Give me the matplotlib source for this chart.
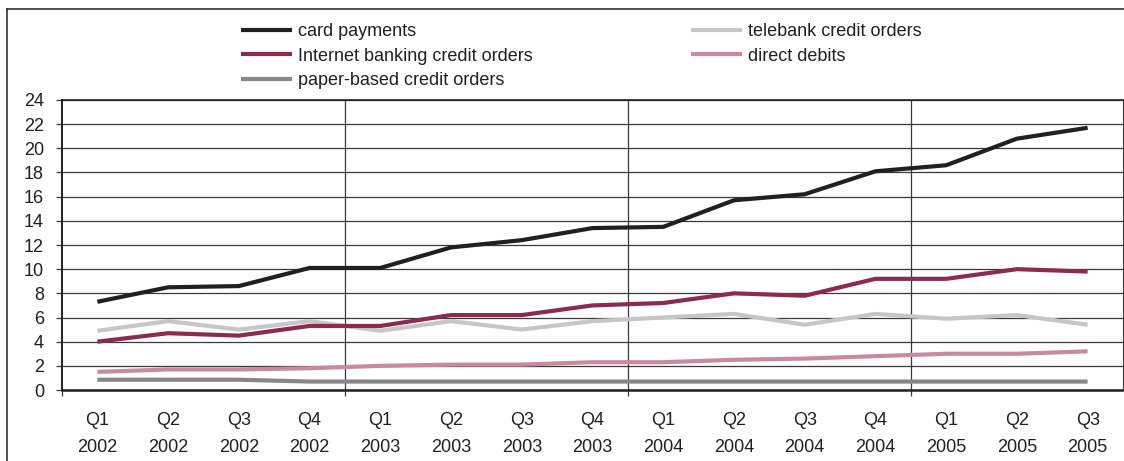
import matplotlib
matplotlib.use("Agg")
import matplotlib.pyplot as plt
from matplotlib.lines import Line2D

plt.rcParams['font.family'] = ['Liberation Sans', 'DejaVu Sans']

quarters = ["Q1", "Q2", "Q3", "Q4", "Q1", "Q2", "Q3", "Q4", "Q1", "Q2", "Q3", "Q4", "Q1", "Q2", "Q3"]
years = ["2002", "2002", "2002", "2002", "2003", "2003", "2003", "2003",
         "2004", "2004", "2004", "2004", "2005", "2005", "2005"]

card_payments = [7.3, 8.5, 8.6, 10.1, 10.1, 11.8, 12.4, 13.4, 13.5, 15.7, 16.2, 18.1, 18.6, 20.8, 21.7]
internet_banking = [4.0, 4.7, 4.5, 5.3, 5.3, 6.2, 6.2, 7.0, 7.2, 8.0, 7.8, 9.2, 9.2, 10.0, 9.8]
telebank = [4.9, 5.7, 5.0, 5.7, 4.9, 5.7, 5.0, 5.7, 6.0, 6.3, 5.4, 6.3, 5.9, 6.2, 5.4]
direct_debits = [1.5, 1.7, 1.7, 1.8, 2.0, 2.1, 2.1, 2.3, 2.3, 2.5, 2.6, 2.8, 3.0, 3.0, 3.2]
paper_based = [0.85, 0.85, 0.85, 0.7, 0.7, 0.7, 0.7, 0.7, 0.7, 0.7, 0.7, 0.7, 0.7, 0.7, 0.7]

labels = ["card payments", "Internet banking credit orders", "paper-based credit orders",
          "telebank credit orders", "direct debits"]
colors = ["#231f20", "#8b2a52", "#878787", "#c6c6c6", "#c98a9e"]

W, H = 1124, 461
fig = plt.figure(figsize=(W / 100, H / 100), dpi=100)
ax = fig.add_axes([62 / W, (H - 390) / H, (1123 - 62) / W, 290 / H])

x = list(range(len(quarters)))
dark = "#231f20"

series = [card_payments, internet_banking, paper_based, telebank, direct_debits]
handles = []
zorders = [6, 5, 3, 3.5, 4]
for s, c, lab, z in zip(series, colors, labels, zorders):
    h, = ax.plot(x, s, color=c, lw=3, label=lab, zorder=z, solid_joinstyle='miter', solid_capstyle='butt')
    handles.append(h)

ax.set_xlim(-0.5, len(quarters) - 0.5)
ax.set_ylim(0, 24)
ax.set_yticks(range(0, 25, 2))
ax.yaxis.grid(True, color="#3a3a3a", lw=0.9, zorder=1)
for b in [3.5, 7.5, 11.5]:
    ax.axvline(b, color="#3a3a3a", lw=0.9, zorder=1)

ax.set_xticks([-0.5, 3.5, 7.5, 11.5])
ax.set_xticklabels([])
ax.tick_params(axis='x', which='major', direction='out', length=4, width=0.9, color="#3a3a3a")
ax.set_xticks(x, minor=True)
ax.set_xticklabels([f"{q}\n{y}" for q, y in zip(quarters, years)], minor=True,
                   fontsize=13, color=dark, linespacing=1.75)
ax.tick_params(axis='x', which='minor', length=0, pad=16)
ax.tick_params(axis='y', direction='out', length=4, width=0.9, color="#3a3a3a",
               labelsize=13, labelcolor=dark, pad=9)

ax.spines['left'].set_color(dark)
ax.spines['left'].set_linewidth(1.4)
ax.spines['bottom'].set_color(dark)
ax.spines['bottom'].set_linewidth(1.8)
ax.spines['top'].set_color(dark)
ax.spines['top'].set_linewidth(1.2)
ax.spines['right'].set_color("#3a3a3a")
ax.spines['right'].set_linewidth(0.8)

fig.add_artist(Line2D([7 / W, 7 / W], [0, 1 - 9 / H], transform=fig.transFigure, color=dark, lw=1.1))
fig.add_artist(Line2D([7 / W, 1], [1 - 9 / H, 1 - 9 / H], transform=fig.transFigure, color=dark, lw=1.1))

leg_kw = dict(loc='upper left', frameon=False, fontsize=13, handlelength=2.85,
              handletextpad=0.3, labelspacing=0.42, borderpad=0, borderaxespad=0,
              bbox_transform=fig.transFigure, labelcolor=dark)
leg1 = fig.legend(handles[:3], labels[:3], bbox_to_anchor=(241 / W, 1 - 23 / H), **leg_kw)
leg2 = fig.legend(handles[3:], labels[3:], bbox_to_anchor=(691 / W, 1 - 23 / H), **leg_kw)
for leg in (leg1, leg2):
    for ln in leg.get_lines():
        ln.set_linewidth(3)

fig.savefig("out.png", dpi=100)
